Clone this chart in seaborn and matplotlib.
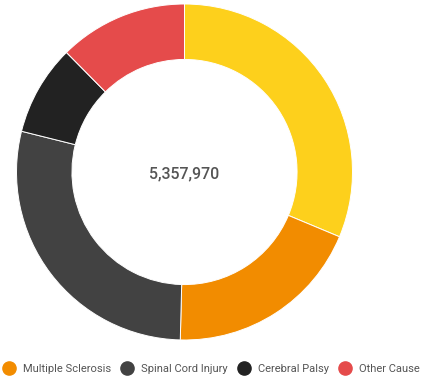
import matplotlib
matplotlib.use("Agg")
import matplotlib.pyplot as plt
from matplotlib.lines import Line2D
import seaborn as sns

categories = ["Stroke", "Multiple Sclerosis", "Spinal Cord Injury", "Cerebral Palsy", "Other Cause"]
values = [1677046, 1023372, 1527021, 466143, 664388]
colors = ["#FDD01C", "#F28C00", "#424242", "#222222", "#E54B4B"]
legend_categories = ["Multiple Sclerosis", "Spinal Cord Injury", "Cerebral Palsy", "Other Cause"]
total_label = "5,357,970"

sns.set_style("white")
plt.rcParams["font.family"] = ["Roboto", "DejaVu Sans"]

W, H = 422, 379
fig = plt.figure(figsize=(W / 100, H / 100), dpi=100)
cx, cy, r = 184.5, 172.0, 168.0
ax = fig.add_axes([(cx - r) / W, (H - cy - r) / H, 2 * r / W, 2 * r / H])
ax.pie(values, colors=colors, startangle=90, counterclock=False, radius=1.0,
       wedgeprops=dict(width=0.33, edgecolor="white", linewidth=0.7))
ax.set_xlim(-1, 1)
ax.set_ylim(-1, 1)
ax.set_aspect("equal")
ax.axis("off")
ax.text(0, -0.01, total_label, ha="center", va="center", fontsize=11.5,
        color="#555555", fontweight="medium")

handles = []
for name in legend_categories:
    c = colors[categories.index(name)]
    handles.append(Line2D([], [], marker="o", linestyle="none", markersize=9.5,
                          markerfacecolor=c, markeredgecolor=c, label=name))
fig.legend(handles=handles, loc="center", bbox_to_anchor=(0.5, 10 / H), ncol=4,
           frameon=False, fontsize=8, handletextpad=0.7, columnspacing=0.8,
           handlelength=1.2, labelcolor="#555555", borderaxespad=0, borderpad=0)

fig.savefig("out.png", dpi=100, facecolor="white")
